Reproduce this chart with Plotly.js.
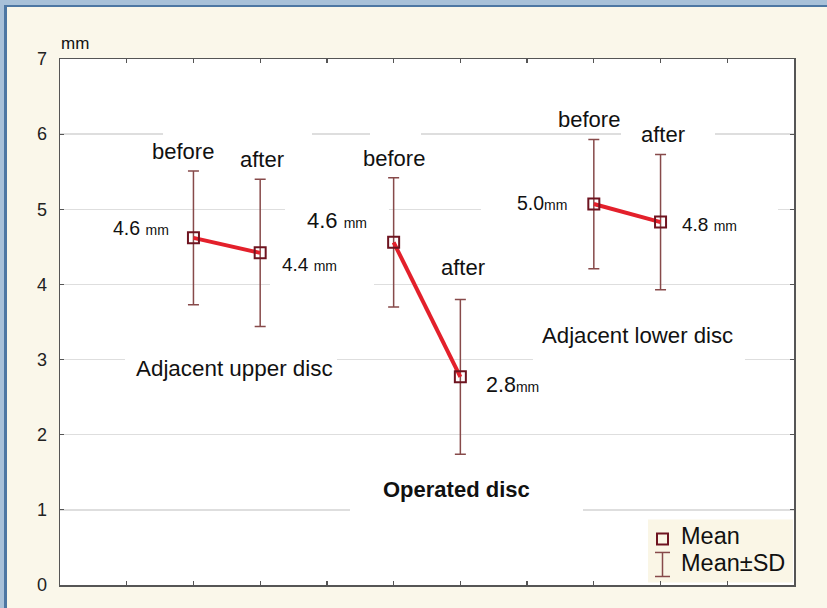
<!DOCTYPE html>
<html><head><meta charset="utf-8">
<script src="https://cdn.plot.ly/plotly-3.0.1.min.js"></script>
<style>
html,body{margin:0;padding:0;background:#faf7ea;overflow:hidden;}
#outer{width:827px;height:608px;box-sizing:border-box;border-top:5px solid #a8c1d9;border-left:4px solid #a8c1d9;}
#inner{width:823px;height:603px;box-sizing:border-box;border-top:2px solid #4d77a3;border-left:3px solid #4d77a3;background:#faf7ea;}
#chart{width:820px;height:601px;}
</style></head>
<body>
<div id="outer"><div id="inner"><div id="chart"></div></div></div>
<script>
// ---- data ----
const groupNames = ['Adjacent upper disc', 'Operated disc', 'Adjacent lower disc'];
const stageLabels = ['before', 'after'];
const xPos = [[2, 3], [5, 6], [8, 9]];
const meanValues = [[4.62, 4.42], [4.56, 2.77], [5.07, 4.83]];
const sdValues = [[0.89, 0.98], [0.86, 1.03], [0.86, 0.90]];
const valueLabels = [['4.6', '4.4'], ['4.6', '2.8'], ['5.0', '4.8']];
const yTickVals = [0, 1, 2, 3, 4, 5, 6, 7];
const xTickVals = [1, 2, 3, 4, 5, 6, 7, 8, 9, 10];
const unitLabel = 'mm';
const legendLabels = ['Mean', 'Mean±SD'];

// ---- styles / layout positions ----
const FONT = 'Liberation Sans, Arial, sans-serif';
const TXT = '#111111';
const ERR = '#874a4a';
const MARK = '#6e1420';
const LINE = '#e3202b';

const traces = groupNames.map((g, i) => ({
  type: 'scatter', mode: 'lines+markers', name: g, showlegend: false,
  x: xPos[i], y: meanValues[i],
  line: {color: LINE, width: 4},
  marker: {symbol: 'square-open', size: 11, color: MARK, line: {width: 2, color: MARK}},
  error_y: {type: 'data', array: sdValues[i], visible: true, color: ERR, thickness: 1.5, width: 5.5},
  hoverinfo: 'x+y'
}));

// label positions (data coords) for stage labels, value labels, group labels
const stagePos = [[[1.843, 5.775], [3.027, 5.668]], [[5.005, 5.681], [6.039, 4.22]], [[7.927, 6.20], [9.03, 5.99]]];
const valuePos = [[[1.214, 4.749, 19.5], [3.746, 4.27, 19]], [[4.144, 4.856, 22], [6.774, 2.657, 21.5]], [[7.23, 5.09, 19.5], [9.733, 4.80, 19]]];
const groupPos = [[2.615, 2.884, 22.4, false], [5.942, 1.272, 22, true], [8.654, 3.324, 22.2, false]];
const valueSep = [[' ', ' '], [' ', ''], ['', ' ']];

const annotations = [];
groupNames.forEach((g, i) => {
  stageLabels.forEach((s, j) => {
    annotations.push({xref: 'x', yref: 'y', x: stagePos[i][j][0], y: stagePos[i][j][1], text: s,
      showarrow: false, font: {family: FONT, size: 22, color: TXT}});
    const vp = valuePos[i][j];
    annotations.push({xref: 'x', yref: 'y', x: vp[0], y: vp[1],
      text: valueLabels[i][j] + valueSep[i][j] + '<span style="font-size:14px">' + unitLabel + '</span>',
      showarrow: false, font: {family: FONT, size: vp[2], color: TXT}});
  });
  const gp = groupPos[i];
  annotations.push({xref: 'x', yref: 'y', x: gp[0], y: gp[1], text: gp[3] ? '<b>' + g + '</b>' : g,
    showarrow: false, font: {family: FONT, size: gp[2], color: TXT}});
});

// paper-coordinate helpers (page pixels -> paper fraction)
const px = v => (v - 60) / 734;
const py = v => (584.5 - v) / 525.5;

// axis unit
annotations.push({xref: 'paper', yref: 'paper', x: px(75), y: py(44), xanchor: 'center', yanchor: 'middle',
  text: unitLabel, showarrow: false, font: {family: FONT, size: 17, color: TXT}});

// legend (drawn manually)
annotations.push({xref: 'paper', yref: 'paper', x: px(679), y: py(536), xanchor: 'left', yanchor: 'middle',
  text: legendLabels[0], showarrow: false, font: {family: FONT, size: 23.5, color: TXT}});
annotations.push({xref: 'paper', yref: 'paper', x: px(679), y: py(563), xanchor: 'left', yanchor: 'middle',
  text: legendLabels[1], showarrow: false, font: {family: FONT, size: 23.5, color: TXT}});

// white boxes behind the text labels (break the grid lines as in the reference)
const boxes = [
  [1.544, 3.777, 5.39, 6.19], [4.646, 5.41, 5.45, 6.19], [8.407, 9.816, 5.52, 6.19],
  [3.372, 4.93, 4.79, 5.19], [3.147, 4.706, 3.79, 4.39], [6.309, 10.76, 4.79, 5.26],
  [0.974, 4.151, 2.73, 3.19], [7.088, 10.265, 2.86, 3.59], [4.346, 7.838, 0.86, 1.53]
];
const shapes = boxes.map(b => ({type: 'rect', xref: 'x', yref: 'y', x0: b[0], x1: b[1], y0: b[2], y1: b[3],
  fillcolor: '#ffffff', line: {width: 0}, layer: 'between'}));
shapes.push({type: 'rect', xref: 'paper', yref: 'paper', x0: px(648), x1: px(793), y0: py(582), y1: py(519),
  fillcolor: '#faf6e6', line: {width: 0}, layer: 'between'});
shapes.push({type: 'rect', xref: 'paper', yref: 'paper', x0: px(657), x1: px(668), y0: py(544), y1: py(533),
  fillcolor: 'rgba(0,0,0,0)', line: {width: 2, color: MARK}, layer: 'above'});
shapes.push({type: 'line', xref: 'paper', yref: 'paper', x0: px(662.5), x1: px(662.5), y0: py(576), y1: py(552),
  line: {width: 1.5, color: ERR}, layer: 'above'});
shapes.push({type: 'line', xref: 'paper', yref: 'paper', x0: px(655), x1: px(670), y0: py(552), y1: py(552),
  line: {width: 1.5, color: ERR}, layer: 'above'});
shapes.push({type: 'line', xref: 'paper', yref: 'paper', x0: px(655), x1: px(670), y0: py(576), y1: py(576),
  line: {width: 1.5, color: ERR}, layer: 'above'});

const layout = {
  width: 820, height: 601,
  margin: {l: 53, r: 33, t: 52, b: 23, pad: 0},
  paper_bgcolor: '#faf7ea', plot_bgcolor: '#ffffff',
  showlegend: false,
  xaxis: {range: [0, 11], tickvals: xTickVals, showticklabels: false, ticks: 'inside', ticklen: 4,
    tickcolor: '#555', tickwidth: 1.2, showgrid: false, zeroline: false, showline: true, linecolor: '#555',
    linewidth: 1.5, mirror: 'ticks', fixedrange: true},
  yaxis: {range: [0, 7], tickvals: yTickVals, ticks: 'inside', ticklen: 4, tickcolor: '#555', tickwidth: 1.2,
    showgrid: true, gridcolor: '#dedede', gridwidth: 1.5, zeroline: false, showline: true, linecolor: '#555',
    linewidth: 1.5, mirror: 'ticks', ticklabelstandoff: 8,
    tickfont: {family: FONT, size: 18, color: '#222'}, fixedrange: true},
  annotations: annotations,
  shapes: shapes
};

Plotly.newPlot('chart', traces, layout, {displayModeBar: false, staticPlot: true});
</script>
</body></html>
